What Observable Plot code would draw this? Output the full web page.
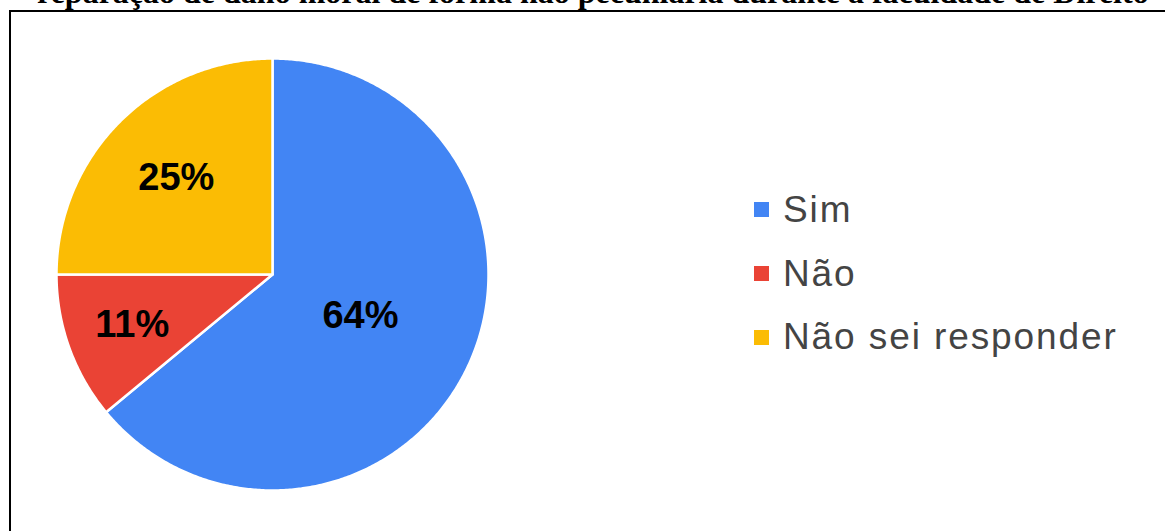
<!DOCTYPE html>
<html><head><meta charset="utf-8">
<script src="https://cdn.jsdelivr.net/npm/d3@7"></script>
<script src="https://cdn.jsdelivr.net/npm/@observablehq/plot@0.6"></script>
<style>
html,body{margin:0;padding:0;background:#fff;overflow:hidden;width:1165px;height:531px;}
#title{position:relative;height:10px;}
#title span{position:absolute;left:37px;top:-24px;white-space:nowrap;font:bold 32px "Liberation Serif","Times New Roman",serif;line-height:32px;color:#000;}
#box{border-top:2px solid #000;border-left:2px solid #000;margin-left:9px;width:1154px;height:519px;position:relative;}
#legend{position:absolute;left:754px;top:178px;width:400px;}
.lg-swatches{font-family:"Liberation Sans",Arial,sans-serif !important;font-size:37px !important;color:#444 !important;letter-spacing:1.9px;margin:0 !important;min-height:0 !important;columns:1 !important;}
.lg-swatches .lg-swatch{height:63.75px;padding:0 !important;margin:0 !important;display:flex !important;align-items:center !important;}
.lg-swatches .lg-swatch > svg{margin-right:14px !important;}
.lg-swatches .lg-swatch > *{max-width:none !important;overflow:visible !important;}
</style></head><body>
<div id="title"><span>reparação de dano moral de forma não pecuniária durante a faculdade de Direito</span></div>
<div id="box"><div id="chart"></div></div>
<div id="legend"></div>
<script>
const categories = ["Sim", "Não", "Não sei responder"];
const values = [64, 11, 25];
const colors = ["#4285F4", "#EA4335", "#FBBC04"];
const labels = ["64%", "11%", "25%"];

const total = d3.sum(values);
let acc = 0;
const slices = categories.map((c, i) => {
  const a0 = acc / total * 2 * Math.PI;
  acc += values[i];
  const a1 = acc / total * 2 * Math.PI;
  return {c, a0, a1, i};
});
const pts = [];
for (const s of slices) {
  pts.push({c: s.c, x: 0, y: 0});
  const n = Math.max(2, Math.ceil((s.a1 - s.a0) / (Math.PI / 360)));
  for (let k = 0; k <= n; k++) {
    const a = s.a0 + (s.a1 - s.a0) * k / n;
    pts.push({c: s.c, x: Math.sin(a), y: Math.cos(a)});
  }
  pts.push({c: s.c, x: 0, y: 0});
}
const lbls = slices.map(s => {
  const m = (s.a0 + s.a1) / 2;
  const frac = values[s.i] / total;
  const rf = frac > 0.5 ? 0.45 : frac > 0.2 ? 0.63 : 0.69;
  return {x: rf * Math.sin(m), y: rf * Math.cos(m), t: labels[s.i]};
});

const cx = 261, cy = 262, r = 216;
const chart = Plot.plot({
  width: 1154, height: 519, margin: 0,
  x: {domain: [-1, 1], range: [cx - r, cx + r], axis: null},
  y: {domain: [-1, 1], range: [cy + r, cy - r], axis: null},
  color: {domain: categories, range: colors},
  style: {background: "white", fontFamily: "'Liberation Sans', Arial, sans-serif", overflow: "visible"},
  marks: [
    Plot.line(pts, {x: "x", y: "y", z: "c", fill: "c", stroke: "white", strokeWidth: 2.5, curve: "linear"}),
    Plot.text(lbls, {x: "x", y: "y", text: "t", fill: "black", fontSize: 38, fontWeight: "bold"})
  ]
});
document.getElementById("chart").append(chart);

const leg = Plot.legend({color: {type: "ordinal", domain: categories, range: colors}, swatchSize: 15, columns: 1, className: "lg"});
document.getElementById("legend").append(leg);
</script>
</body></html>
